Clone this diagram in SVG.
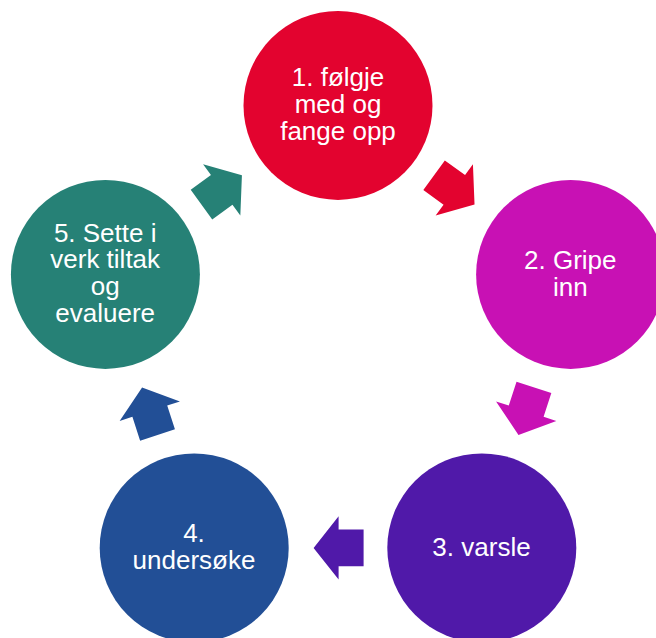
<svg xmlns="http://www.w3.org/2000/svg" xmlns:xlink="http://www.w3.org/1999/xlink" width="656" height="638" viewBox="0 0 656 638">
  <style>
    .lbl { font-family: "Liberation Sans", Arial, sans-serif; font-size: 26px; fill: #ffffff; text-anchor: middle; }
  </style>
  <defs>
    <path id="arrow" d="M -25,-18.3 L 0,-18.3 L 0,-31.7 L 25,0 L 0,31.7 L 0,18.3 L -25,18.3 Z"/>
  </defs>
  <rect x="0" y="0" width="656" height="638" fill="#ffffff"/>

  <g id="connectors">
    <use xlink:href="#arrow" href="#arrow" fill="#E3032F" transform="translate(454.3,189.9) rotate(36)"/>
    <use xlink:href="#arrow" href="#arrow" fill="#C811B4" transform="translate(526.2,411.2) rotate(108)"/>
    <use xlink:href="#arrow" href="#arrow" fill="#5019A9" transform="translate(338.6,547.9) rotate(180)"/>
    <use xlink:href="#arrow" href="#arrow" fill="#224F96" transform="translate(149.8,411.2) rotate(252)"/>
    <use xlink:href="#arrow" href="#arrow" fill="#268176" transform="translate(221.7,189.9) rotate(324)"/>
  </g>

  <g id="node1">
    <circle cx="338" cy="105.4" r="94.5" fill="#E3032F"/>
    <text class="lbl" x="338" y="86"><tspan x="338" y="86">1. følgje</tspan><tspan x="338" y="112.9">med og</tspan><tspan x="338" y="139.8">fange opp</tspan></text>
  </g>

  <g id="node2">
    <circle cx="570.6" cy="274.4" r="94.5" fill="#C811B4"/>
    <text class="lbl" x="570.3" y="269"><tspan x="570.3" y="269">2. Gripe</tspan><tspan x="570.3" y="295.9">inn</tspan></text>
  </g>

  <g id="node3">
    <circle cx="481.8" cy="547.9" r="94.5" fill="#5019A9"/>
    <text class="lbl" x="481.5" y="556">3. varsle</text>
  </g>

  <g id="node4">
    <circle cx="194.2" cy="547.9" r="94.5" fill="#224F96"/>
    <text class="lbl" x="194" y="542"><tspan x="194" y="542">4.</tspan><tspan x="194" y="568.9">undersøke</tspan></text>
  </g>

  <g id="node5">
    <circle cx="105.4" cy="274.4" r="94.5" fill="#268176"/>
    <text class="lbl" x="105.2" y="241.5"><tspan x="105.2" y="241.5">5. Sette i</tspan><tspan x="105.2" y="268.4">verk tiltak</tspan><tspan x="105.2" y="295.3">og</tspan><tspan x="105.2" y="322.2">evaluere</tspan></text>
  </g>
</svg>
